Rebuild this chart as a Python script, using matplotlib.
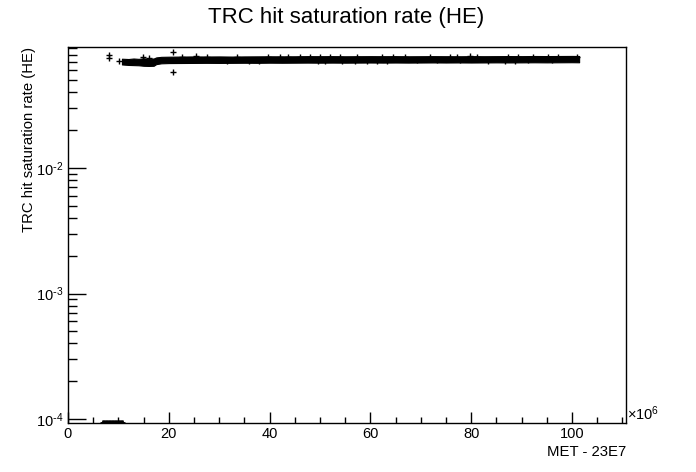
import matplotlib
matplotlib.use("Agg")
import matplotlib.pyplot as plt
from matplotlib.ticker import MultipleLocator, LogLocator, NullFormatter, FuncFormatter
import numpy as np

plt.rcParams['font.family'] = ['Liberation Sans', 'DejaVu Sans']
plt.rcParams['mathtext.default'] = 'regular'

# x in units of 1e6 s (MET - 23E7), y = saturation rate
band_x = [10.7, 12.0, 13.0, 14.0, 15.0, 16.0, 17.0, 17.5, 18.5, 20.0,
          22.5, 25.0, 27.5, 30.0, 32.5, 35.0, 37.5, 40.0, 42.5, 45.0,
          47.5, 50.0, 52.5, 55.0, 57.5, 60.0, 62.5, 65.0, 67.5, 70.0,
          72.5, 75.0, 77.5, 80.0, 82.5, 85.0, 87.5, 90.0, 92.5, 95.0,
          97.5, 100.0, 101.4]
band_hi = [0.0742, 0.0738, 0.0745, 0.0740, 0.0748, 0.0742, 0.0745, 0.0760, 0.0768, 0.0770,
           0.0772, 0.0774, 0.0773, 0.0774, 0.0772, 0.0774, 0.0775, 0.0776, 0.0775, 0.0776,
           0.0778, 0.0777, 0.0778, 0.0776, 0.0777, 0.0778, 0.0777, 0.0778, 0.0776, 0.0777,
           0.0778, 0.0777, 0.0776, 0.0778, 0.0777, 0.0778, 0.0779, 0.0778, 0.0780, 0.0779,
           0.0780, 0.0781, 0.0780]
band_lo = [0.0668, 0.0662, 0.0660, 0.0658, 0.0652, 0.0650, 0.0652, 0.0672, 0.0682, 0.0685,
           0.0686, 0.0687, 0.0688, 0.0687, 0.0688, 0.0689, 0.0688, 0.0690, 0.0689, 0.0690,
           0.0691, 0.0690, 0.0691, 0.0690, 0.0691, 0.0692, 0.0691, 0.0692, 0.0691, 0.0692,
           0.0693, 0.0692, 0.0693, 0.0692, 0.0693, 0.0694, 0.0693, 0.0694, 0.0695, 0.0694,
           0.0695, 0.0696, 0.0695]

# isolated points away from the band
lone_x = [8.1, 8.1, 10.1, 20.9, 20.9]
lone_y = [0.0797, 0.0755, 0.0715, 0.0838, 0.0583]

# points just poking out of the band edges
spike_x = [14.8, 16.1, 22.6, 25.4, 27.6, 31.5, 33.5, 36.0, 37.8, 39.7,
           42.0, 43.7, 46.0, 48.0, 49.5, 50.0, 51.0, 52.0, 54.0, 54.4,
           57.0, 57.3, 59.3, 61.3, 62.3, 63.3, 64.5, 66.9, 69.2, 71.8,
           73.2, 75.8, 77.2, 77.8, 79.8, 81.2, 83.3, 86.7, 87.3, 88.7,
           89.3, 91.3, 92.3, 95.2, 96.0, 97.2, 101.0]
spike_y = [0.0768, 0.0752, 0.0770, 0.0782, 0.0765, 0.0712, 0.0762, 0.0714, 0.0714, 0.0768,
           0.0772, 0.0766, 0.0766, 0.0762, 0.0716, 0.0762, 0.0716, 0.0762, 0.0762, 0.0716,
           0.0716, 0.0764, 0.0716, 0.0716, 0.0762, 0.0716, 0.0762, 0.0762, 0.0720, 0.0762,
           0.0720, 0.0762, 0.0762, 0.0720, 0.0786, 0.0762, 0.0716, 0.0716, 0.0762, 0.0716,
           0.0762, 0.0722, 0.0764, 0.0764, 0.0722, 0.0764, 0.0760]

# points with zero rate, sitting on the lower edge
zero_x = [6.9, 7.2, 7.5, 7.8, 8.1, 8.4, 8.7, 9.0, 9.3, 9.6, 9.9, 10.2, 10.5, 10.8]
zero_y = [9.3e-5] * len(zero_x)

fig = plt.figure(figsize=(6.96, 4.72), dpi=100)
ax = fig.add_axes([68 / 696, 1 - 423 / 472, 558 / 696, 376 / 472])

ax.fill_between(band_x, band_lo, band_hi, color='black', linewidth=0.8)
ax.plot(spike_x, spike_y, '+', color='black', markersize=5, markeredgewidth=1)
ax.plot(lone_x, lone_y, '+', color='black', markersize=5, markeredgewidth=1)
ax.plot(zero_x, zero_y, '+', color='black', markersize=5, markeredgewidth=2)

ax.set_yscale('log')
ax.set_xlim(0, 110.7)
ax.set_ylim(9.3e-5, 0.092)

ax.xaxis.set_major_locator(MultipleLocator(20))
ax.xaxis.set_minor_locator(MultipleLocator(5))
ax.yaxis.set_major_locator(LogLocator(base=10))
ax.yaxis.set_minor_locator(LogLocator(base=10, subs=range(2, 10)))
ax.yaxis.set_minor_formatter(NullFormatter())
ax.yaxis.set_major_formatter(FuncFormatter(
    lambda v, p: r'$10^{\text{-}%d}$' % round(-np.log10(v))))

ax.tick_params(axis='x', which='major', direction='in', length=8, width=1, pad=3, labelsize=10.5)
ax.tick_params(axis='x', which='minor', direction='in', length=4, width=1)
ax.tick_params(axis='y', which='major', direction='in', length=13, width=1, pad=3.5, labelsize=10.5)
ax.tick_params(axis='y', which='minor', direction='in', length=6.5, width=1)
for s in ax.spines.values():
    s.set_linewidth(1)

ax.text(1.002, 0.0, r'$\times10^{6}$', transform=ax.transAxes,
        ha='left', va='bottom', fontsize=10.5)

fig.text(0.497, 1 - 18 / 472, 'TRC hit saturation rate (HE)', ha='center', va='center', fontsize=16)
fig.text(626 / 696, 1 - 452 / 472, 'MET - 23E7', ha='right', va='center', fontsize=10.7)
fig.text(29 / 696, 1 - 47 / 472, 'TRC hit saturation rate (HE)', ha='center', va='top',
         rotation=90, fontsize=10.7)

fig.savefig('out.png', dpi=100)
